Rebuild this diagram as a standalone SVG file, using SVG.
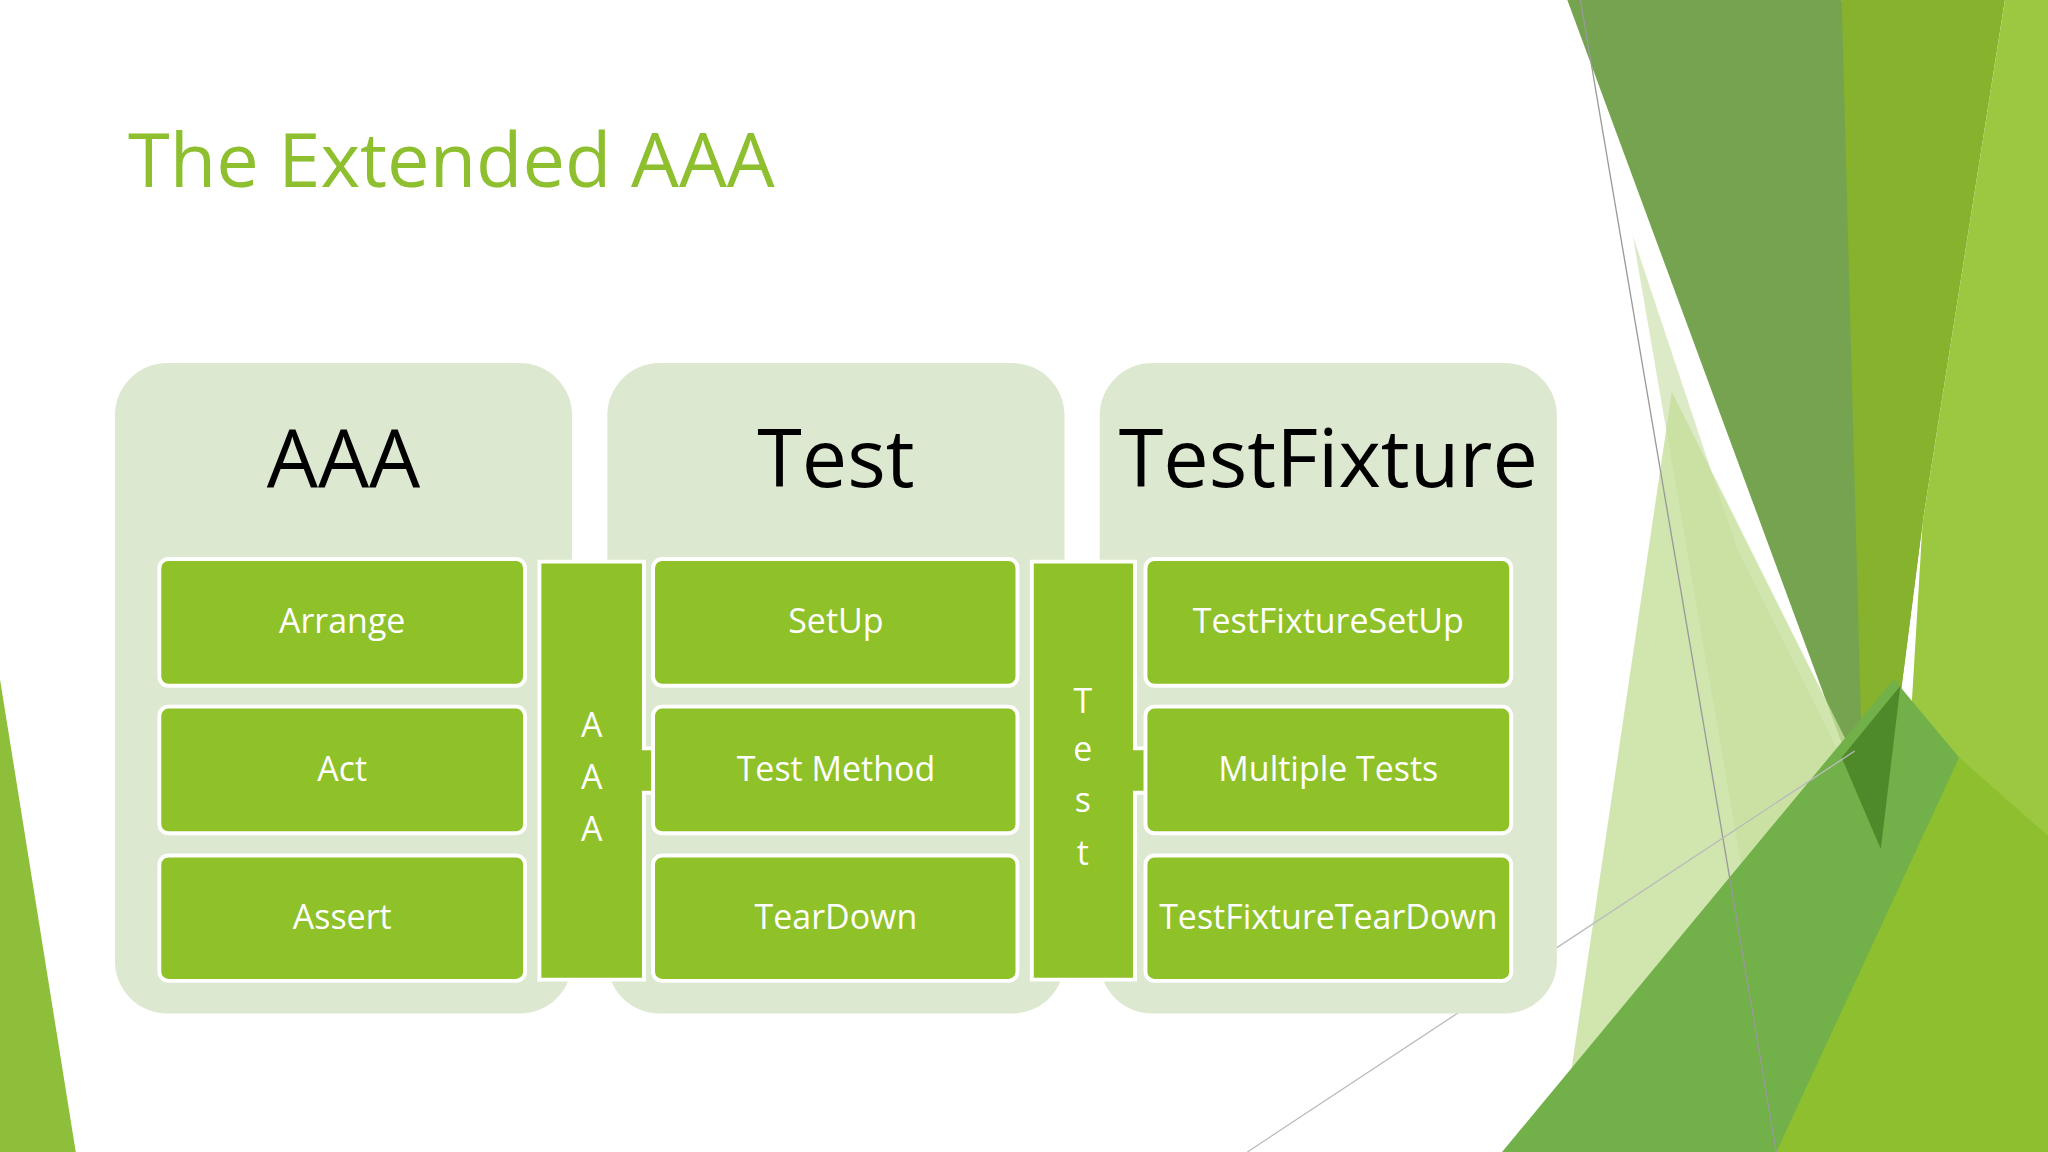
<svg xmlns="http://www.w3.org/2000/svg" width="2048" height="1152" viewBox="0 0 2048 1152">
<style>
.panel{fill:#DDE8D0}
.box{fill:#8FC128;stroke:#fff;stroke-width:3}
.bt{font-family:"Open Sans","Liberation Sans",sans-serif;font-size:26px;fill:#fff;text-anchor:middle}
.hd{font-family:"Open Sans","Liberation Sans",sans-serif;font-size:62px;fill:#000;text-anchor:middle}
</style>
<rect width="2048" height="1152" fill="#fff"/>
<g transform="scale(1.30612)">
<g id="background">
<polygon points="1200,0 1410,0 1472,400 1440,650" fill="#6E9E47" opacity="0.95"/>
<polygon points="1410,0 1535,0 1472,400 1440,650 1425,560" fill="#86B22E"/>
<polygon points="1535,0 1568,0 1568,882 1500,882 1460,600 1472,400" fill="#9CC841"/>
<polygon points="1250,180 1330,420 1410,580 1350,760" fill="#D9E8C2" opacity="0.9"/>
<polygon points="1280,300 1420,580 1200,840" fill="#C6DE9A" opacity="0.8"/>
<polygon points="1150,882 1450,520 1500,580 1440,882" fill="#72B04A"/>
<polygon points="1360,882 1500,580 1568,640 1568,882" fill="#8DBF2E"/>
<polygon points="1410,580 1455,525 1440,650" fill="#4E8A2A"/>
<polygon points="0,520 58,882 0,882" fill="#8DBF3A"/>
<line x1="1210" y1="0" x2="1360" y2="882" stroke="#999" stroke-width="1"/>
<line x1="955" y1="882" x2="1420" y2="575" stroke="#bbb" stroke-width="1"/>
</g>
<text id="title" x="98" y="143" font-family="'Open Sans','Liberation Sans',sans-serif" font-size="58" fill="#8DBF2E">The Extended AAA</text>
<g id="panel-aaa"><rect class="panel" x="88" y="278" width="350" height="498" rx="40"/><text class="hd" x="263" y="373">AAA</text></g>
<g id="panel-test"><rect class="panel" x="465" y="278" width="350" height="498" rx="40"/><text class="hd" x="640" y="373">Test</text></g>
<g id="panel-fixture"><rect class="panel" x="842" y="278" width="350" height="498" rx="40"/><text class="hd" x="1017" y="373">TestFixture</text></g>
<g id="connectors">
<g id="arrow-aaa"><path class="box" d="M413,430 H493 V573 H506 V558 L538,590 L506,622 V607 H493 V750 H413 Z"/>
<text class="bt" x="453" y="564">A</text><text class="bt" x="453" y="604">A</text><text class="bt" x="453" y="644">A</text></g>
<g id="arrow-test"><path class="box" d="M790,430 H869 V573 H882 V558 L913,590 L882,622 V607 H869 V750 H790 Z"/>
<text class="bt" x="829" y="546">T</text><text class="bt" x="829" y="583">e</text><text class="bt" x="829" y="622">s</text><text class="bt" x="829" y="662">t</text></g>
</g>
<g id="arrange"><rect class="box" x="122" y="428" width="280" height="97" rx="7"/><text class="bt" x="262" y="485">Arrange</text></g>
<g id="act"><rect class="box" x="122" y="541" width="280" height="97" rx="7"/><text class="bt" x="262" y="598">Act</text></g>
<g id="assert"><rect class="box" x="122" y="655" width="280" height="96" rx="7"/><text class="bt" x="262" y="711">Assert</text></g>
<g id="setup"><rect class="box" x="500" y="428" width="279" height="97" rx="7"/><text class="bt" x="640" y="485">SetUp</text></g>
<g id="testmethod"><rect class="box" x="500" y="541" width="279" height="97" rx="7"/><text class="bt" x="640" y="598">Test Method</text></g>
<g id="teardown"><rect class="box" x="500" y="655" width="279" height="96" rx="7"/><text class="bt" x="640" y="711">TearDown</text></g>
<g id="fixturesetup"><rect class="box" x="877" y="428" width="280" height="97" rx="7"/><text class="bt" x="1017" y="485">TestFixtureSetUp</text></g>
<g id="multipletests"><rect class="box" x="877" y="541" width="280" height="97" rx="7"/><text class="bt" x="1017" y="598">Multiple Tests</text></g>
<g id="fixtureteardown"><rect class="box" x="877" y="655" width="280" height="96" rx="7"/><text class="bt" x="1017" y="711">TestFixtureTearDown</text></g>
</g>
</svg>
